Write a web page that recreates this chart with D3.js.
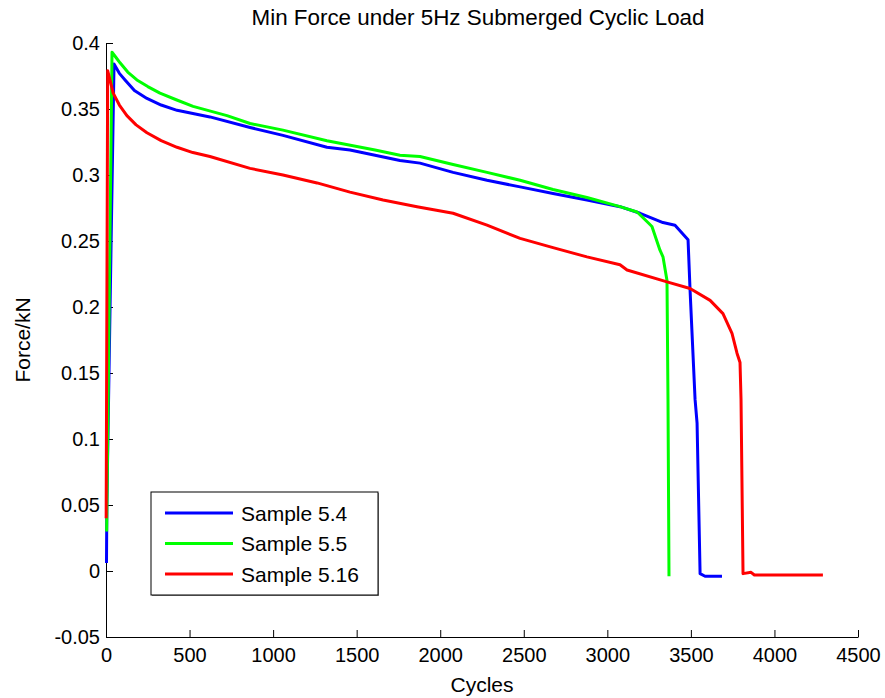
<!DOCTYPE html>
<html>
<head>
<meta charset="utf-8">
<script src="https://cdn.jsdelivr.net/npm/d3@7"></script>
<style>
  body { margin: 0; background: #fff; }
  svg { display: block; font-family: "Liberation Sans", Arial, sans-serif; }
  .axis path, .axis line { stroke: #000; }
  .axis text { font-size: 20px; fill: #000; font-family: "Liberation Sans", Arial, sans-serif; }
</style>
</head>
<body>
<div class="chart"></div>
<script>
"use strict";

// data: [cycles, force kN]
var sample54 = [
  [3, 0.006], [5, 0.05], [48, 0.384], [80, 0.377], [114, 0.372], [170, 0.364], [245, 0.358],
  [330, 0.353], [425, 0.349], [622, 0.344],
  [862, 0.336], [1059, 0.330], [1322, 0.321], [1460, 0.319], [1610, 0.315], [1759, 0.311],
  [1879, 0.309], [2077, 0.302], [2280, 0.296], [2478, 0.291], [2675, 0.286], [2878, 0.281],
  [3076, 0.276], [3196, 0.271], [3333, 0.264], [3405, 0.262], [3483, 0.251], [3495, 0.213],
  [3525, 0.130], [3537, 0.112], [3555, -0.002], [3585, -0.004], [3686, -0.004]
];
var sample55 = [
  [4, 0.030], [36, 0.393], [60, 0.389], [84, 0.385], [130, 0.378], [185, 0.372], [250, 0.367],
  [323, 0.362], [420, 0.357], [521, 0.352],
  [724, 0.345], [862, 0.339], [1059, 0.334], [1322, 0.326], [1610, 0.319], [1759, 0.315],
  [1879, 0.314], [2077, 0.308], [2280, 0.302], [2478, 0.296], [2675, 0.289], [2878, 0.283],
  [3076, 0.276], [3178, 0.272], [3243, 0.264], [3267, 0.261], [3315, 0.243], [3333, 0.238],
  [3357, 0.220], [3363, 0.130], [3369, -0.004]
];
var sample516 = [
  [1, 0.040], [10, 0.379], [43, 0.362], [80, 0.353], [125, 0.345], [180, 0.338], [245, 0.332],
  [330, 0.326], [425, 0.321], [520, 0.317],
  [622, 0.314], [862, 0.305], [1059, 0.300], [1263, 0.294], [1460, 0.287], [1658, 0.281],
  [1861, 0.276], [2077, 0.271], [2280, 0.262], [2478, 0.252], [2675, 0.245], [2878, 0.238],
  [3076, 0.232], [3118, 0.228], [3357, 0.219], [3495, 0.214], [3615, 0.205], [3692, 0.195],
  [3746, 0.180], [3776, 0.165], [3794, 0.158], [3800, 0.130], [3812, -0.002], [3860, -0.001],
  [3880, -0.003], [4290, -0.003]
];

var seriesNames = ["Sample 5.4", "Sample 5.5", "Sample 5.16"];
var seriesColors = ["#0000ff", "#00ff00", "#ff0000"];
var xTicks = [0, 500, 1000, 1500, 2000, 2500, 3000, 3500, 4000, 4500];
var yTicks = [-0.05, 0, 0.05, 0.1, 0.15, 0.2, 0.25, 0.3, 0.35, 0.4];

(function(){

var width = 885, height = 698;
var plotLeft = 106, plotRight = 858, plotTop = 43, plotBottom = 637;

var svg = d3.select(".chart").append("svg")
  .attr("width", width)
  .attr("height", height);

var x = d3.scaleLinear().domain([0, 4500]).range([plotLeft, plotRight]);
var y = d3.scaleLinear().domain([-0.05, 0.4]).range([plotBottom, plotTop]);

//axes, ticks pointing inward like matlab
var xAxis = d3.axisBottom(x).tickValues(xTicks).tickSizeInner(-7).tickSizeOuter(0)
  .tickPadding(11).tickFormat(function(d){ return String(d) });
var yAxis = d3.axisLeft(y).tickValues(yTicks).tickSizeInner(-7).tickSizeOuter(0)
  .tickPadding(6).tickFormat(function(d){ return d === 0 ? "0" : String(+d.toFixed(2)) });

svg.append("g").attr("class", "axis")
  .attr("transform", "translate(0," + plotBottom + ")")
  .call(xAxis);
svg.append("g").attr("class", "axis")
  .attr("transform", "translate(" + plotLeft + ",0)")
  .call(yAxis);

var line = d3.line()
  .x(function(d){ return x(d[0]) })
  .y(function(d){ return y(d[1]) });

[sample54, sample55, sample516].forEach(function(s, i){
  svg.append("path")
    .datum(s)
    .attr("d", line)
    .attr("fill", "none")
    .attr("stroke", seriesColors[i])
    .attr("stroke-width", 3)
    .attr("stroke-linejoin", "round");
});

//titles
svg.append("text")
  .attr("x", 478).attr("y", 25)
  .attr("text-anchor", "middle")
  .style("font-size", "22.4px")
  .text("Min Force under 5Hz Submerged Cyclic Load");

svg.append("text")
  .attr("x", (plotLeft + plotRight) / 2).attr("y", 692)
  .attr("text-anchor", "middle")
  .style("font-size", "21px")
  .text("Cycles");

svg.append("text")
  .attr("transform", "translate(30," + ((plotTop + plotBottom) / 2) + ") rotate(-90)")
  .attr("text-anchor", "middle")
  .style("font-size", "21px")
  .text("Force/kN");

//legend
var legend = svg.append("g").attr("transform", "translate(151,492)");
legend.append("rect")
  .attr("x", 1).attr("y", 1).attr("width", 227).attr("height", 103)
  .attr("fill", "#888");
legend.append("rect")
  .attr("width", 227).attr("height", 103)
  .attr("fill", "#fff").attr("stroke", "#000");

seriesNames.forEach(function(name, i){
  var ly = 21 + i * 30.5;
  legend.append("line")
    .attr("x1", 14).attr("x2", 82)
    .attr("y1", ly).attr("y2", ly)
    .attr("stroke", seriesColors[i]).attr("stroke-width", 3);
  legend.append("text")
    .attr("x", 90).attr("y", ly + 7.5)
    .style("font-size", "21px")
    .text(name);
});

})();
</script>
</body>
</html>
